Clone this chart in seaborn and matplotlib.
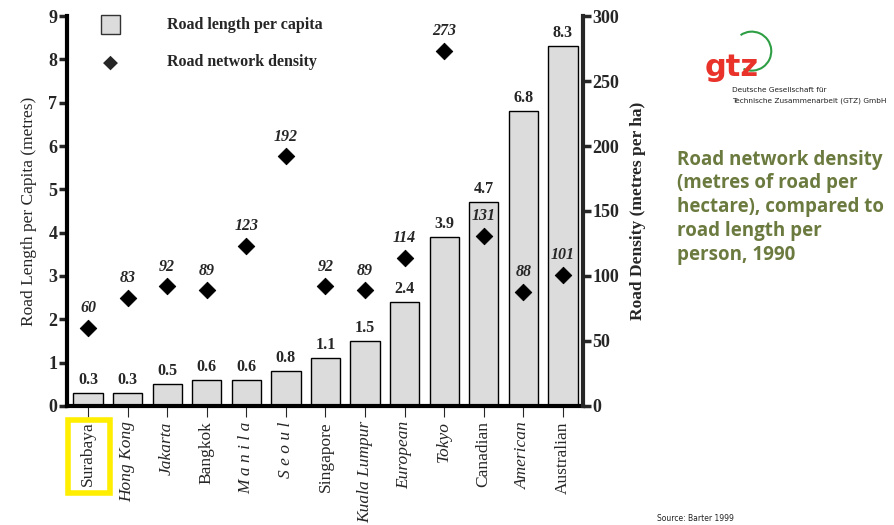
import matplotlib
matplotlib.use("Agg")
import matplotlib.pyplot as plt
import seaborn as sns
import pandas as pd
from matplotlib.patches import Rectangle, Arc

cities = ["Surabaya", "Hong Kong", "Jakarta", "Bangkok", "Manila", "Seoul",
          "Singapore", "Kuala Lumpur", "European", "Tokyo", "Canadian",
          "American", "Australian"]
tick_text = ["Surabaya", "Hong Kong", "Jakarta", "Bangkok", "M a n i l a", "S e o u l",
             "Singapore", "Kuala Lumpur", "European", "Tokyo", "Canadian",
             "American", "Australian"]
tick_italic = [False, True, True, False, True, True, False, True, True, True,
               False, True, False]
road_length = [0.3, 0.3, 0.5, 0.6, 0.6, 0.8, 1.1, 1.5, 2.4, 3.9, 4.7, 6.8, 8.3]
road_density = [60, 83, 92, 89, 123, 192, 92, 89, 114, 273, 131, 88, 101]

df = pd.DataFrame({"city": cities, "length": road_length, "density": road_density})

sns.set_style("white")
plt.rcParams["font.family"] = ["Liberation Serif", "DejaVu Serif"]

fig = plt.figure(figsize=(8.95, 5.25), dpi=100)
ax = fig.add_axes([0.075, 0.2267, 0.576, 0.7428])

sns.barplot(data=df, x="city", y="length", ax=ax, color="#dcdcdc",
            edgecolor="black", linewidth=1.0, width=0.74, saturation=1)
ax.set_ylim(0, 9)
ax.set_xlim(-0.53, 12.5)
ax.set_yticks(range(0, 10))
ax.set_yticklabels([str(i) for i in range(10)], fontsize=13, fontweight="bold")
ax.set_xticks(range(len(cities)))
ax.set_xticklabels([])
ax.tick_params(axis="y", direction="out", length=6, width=2.5, pad=1, left=True)
ax.tick_params(axis="x", direction="out", length=8, width=0.8, bottom=True)
ax.set_xlabel("")
ax.set_ylabel("Road Length per Capita (metres)", fontsize=12.5, labelpad=8)

for i, (lbl, it) in enumerate(zip(tick_text, tick_italic)):
    ax.text(i, -0.35, lbl, rotation=90, ha="center", va="top", fontsize=12.5,
            style="italic" if it else "normal", transform=ax.transData)

# highlight box around the first city
ax.add_patch(Rectangle((-0.5, -2.0), 1.05, 1.68, fill=False, edgecolor="#ffee00",
                       linewidth=4, clip_on=False))

for i, v in enumerate(road_length):
    ax.text(i, v + 0.12, f"{v}", ha="center", va="bottom", fontsize=11.5,
            fontweight="bold")

for s in ["top", "right"]:
    ax.spines[s].set_visible(False)
for s in ["left", "bottom"]:
    ax.spines[s].set_linewidth(3)
    ax.spines[s].set_color("black")

ax2 = ax.twinx()
sns.scatterplot(data=df, x="city", y="density", ax=ax2, marker="D", s=70,
                color="black", edgecolor="black", legend=False)
ax2.set_ylim(0, 300)
ax2.set_xlim(-0.53, 12.5)
ax2.set_yticks(range(0, 301, 50))
ax2.set_yticklabels([str(i) for i in range(0, 301, 50)], fontsize=13, fontweight="bold")
ax2.tick_params(axis="y", direction="out", length=6, width=2.5, pad=1, right=True)
ax2.set_ylabel("Road Density (metres per ha)", fontsize=12.5, fontweight="bold", labelpad=8)
for s in ["top", "left", "bottom"]:
    ax2.spines[s].set_visible(False)
ax2.spines["right"].set_linewidth(3)

for i, v in enumerate(road_density):
    ax2.text(i, v + 9, f"{v}", ha="center", va="bottom", fontsize=11.5,
             fontweight="bold", style="italic")

# legend
fig.patches.append(Rectangle((0.1125, 0.935), 0.022, 0.036, transform=fig.transFigure,
                             facecolor="#dcdcdc", edgecolor="#333333", linewidth=1))
fig.text(0.1235, 0.882, "\u25C6", ha="center", va="center", fontsize=14,
         family="DejaVu Sans")
fig.text(0.187, 0.953, "Road length per capita", ha="left", va="center",
         fontsize=11.5, fontweight="bold")
fig.text(0.187, 0.882, "Road network density", ha="left", va="center",
         fontsize=11.5, fontweight="bold")

# logo and organisation name
logo = fig.add_axes([0.812, 0.855, 0.0559, 0.0952])
logo.add_patch(Arc((0.5, 0.5), 0.78, 0.78, theta1=-115, theta2=125, color="#2e9e44",
                   linewidth=1.5))
logo.set_xlim(0, 1)
logo.set_ylim(0, 1)
logo.axis("off")
fig.text(0.818, 0.872, "gtz", ha="center", va="center", fontsize=22,
         fontweight="bold", color="#e8322a", family="DejaVu Sans")
fig.text(0.818, 0.829, "Deutsche Gesellschaft für", fontsize=5.3, ha="left", va="center",
         family="DejaVu Sans", color="#222222")
fig.text(0.818, 0.808, "Technische Zusammenarbeit (GTZ) GmbH", fontsize=5.3, ha="left",
         va="center", family="DejaVu Sans", color="#222222")

fig.text(0.756, 0.715, "Road network density\n(metres of road per\nhectare), compared to\nroad length per\nperson, 1990",
         ha="left", va="top", fontsize=13.5, fontweight="bold", color="#6b7a3e",
         family="Open Sans", linespacing=1.25)

fig.text(0.734, 0.012, "Source: Barter 1999", fontsize=5.5, ha="left", va="center",
         family="DejaVu Sans", color="#222222")

fig.savefig("out.png", dpi=100, facecolor="white")
